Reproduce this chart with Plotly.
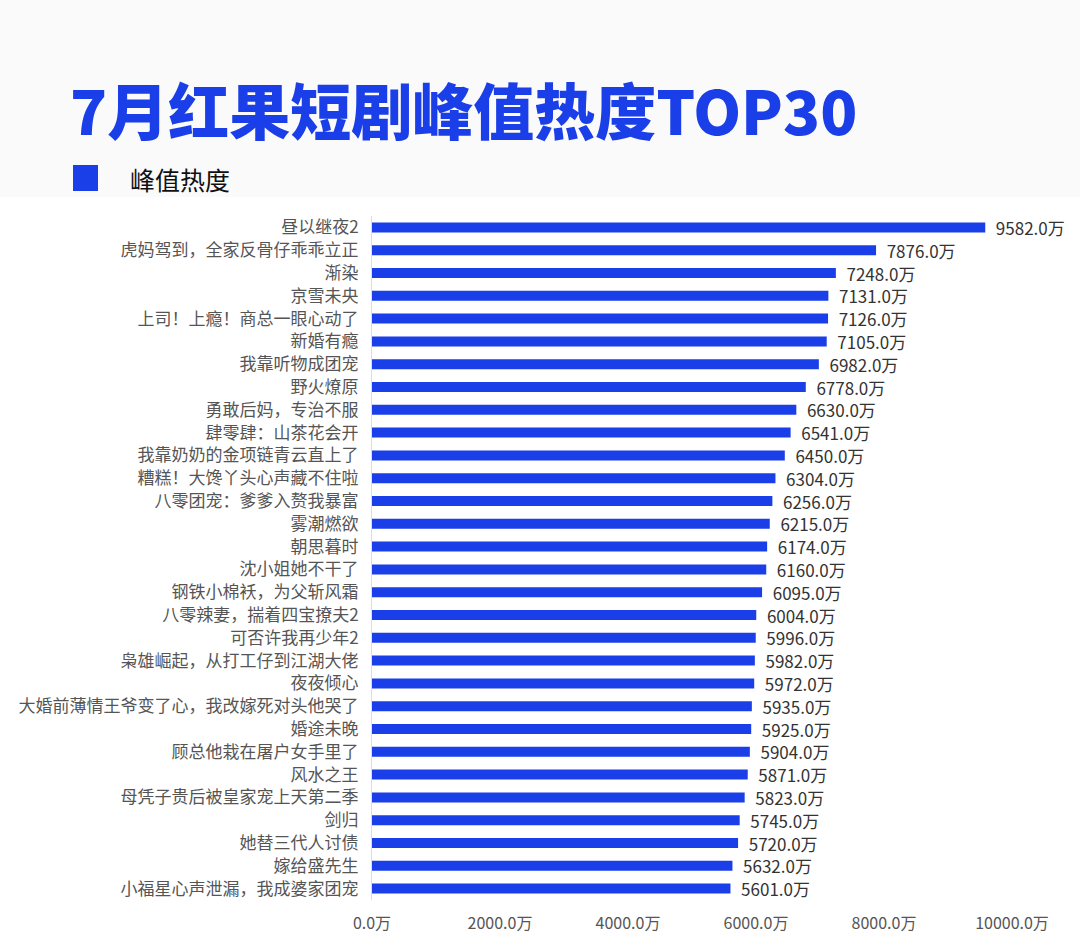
import plotly.graph_objects as go

titles = [
    "昼以继夜2", "虎妈驾到，全家反骨仔乖乖立正", "渐染", "京雪未央", "上司！上瘾！商总一眼心动了",
    "新婚有瘾", "我靠听物成团宠", "野火燎原", "勇敢后妈，专治不服", "肆零肆：山茶花会开",
    "我靠奶奶的金项链青云直上了", "糟糕！大馋丫头心声藏不住啦", "八零团宠：爹爹入赘我暴富", "雾潮燃欲", "朝思暮时",
    "沈小姐她不干了", "钢铁小棉袄，为父斩风霜", "八零辣妻，揣着四宝撩夫2", "可否许我再少年2", "枭雄崛起，从打工仔到江湖大佬",
    "夜夜倾心", "大婚前薄情王爷变了心，我改嫁死对头他哭了", "婚途未晚", "顾总他栽在屠户女手里了", "风水之王",
    "母凭子贵后被皇家宠上天第二季", "剑归", "她替三代人讨债", "嫁给盛先生", "小福星心声泄漏，我成婆家团宠",
]
heat = [
    9582, 7876, 7248, 7131, 7126,
    7105, 6982, 6778, 6630, 6541,
    6450, 6304, 6256, 6215, 6174,
    6160, 6095, 6004, 5996, 5982,
    5972, 5935, 5925, 5904, 5871,
    5823, 5745, 5720, 5632, 5601,
]
series_name = "峰值热度"
chart_title = "7月红果短剧峰值热度TOP30"
x_ticks = [0, 2000, 4000, 6000, 8000, 10000]
x_ticktext = [f"{v:.1f}万" for v in x_ticks]

BLUE = "#1a3fe8"
FONT = "Noto Sans CJK SC"

fig = go.Figure(go.Bar(
    x=heat, y=titles, orientation="h", name=series_name,
    marker=dict(color=BLUE, line=dict(width=0)),
    texttemplate="  %{x:.1f}万", textposition="outside", constraintext="none",
    textfont=dict(family=FONT, size=17, color="#333333"),
    cliponaxis=False, showlegend=False,
))

L, R, T, B = 372, 68, 216, 48
W, H = 1080, 948
pw, ph = W - L - R, H - T - B

def px(xp):
    return (xp - L) / pw

def py(yp):
    return (H - B - yp) / ph

fig.update_layout(
    width=W, height=H,
    margin=dict(l=L, r=R, t=T, b=B, pad=0),
    paper_bgcolor="#fafafa", plot_bgcolor="white",
    bargap=0.56,
    font=dict(family=FONT, color="#555555"),
    title=dict(text=chart_title, x=70 / W, xanchor="left",
               xref="container", yref="container", y=1 - 114 / H, yanchor="middle",
               font=dict(family=FONT, size=61, color=BLUE, weight=900)),
    xaxis=dict(range=[0, 10000], tickvals=x_ticks, ticktext=x_ticktext,
               showgrid=False, zeroline=False, showline=False, ticks="",
               ticklabelstandoff=12,
               tickfont=dict(family=FONT, size=16, color="#555555")),
    yaxis=dict(autorange="reversed", showgrid=False, zeroline=False, showline=True,
               linecolor="#dcdcdc", linewidth=1, ticks="", ticklabelstandoff=9,
               tickfont=dict(family=FONT, size=17, color="#555555")),
    shapes=[
        dict(type="rect", xref="paper", yref="paper", x0=px(0), x1=px(W), y0=py(H), y1=py(197),
             fillcolor="white", line=dict(width=0), layer="below"),
        dict(type="rect", xref="paper", yref="paper", x0=px(73), x1=px(98), y0=py(191), y1=py(165),
             fillcolor=BLUE, line=dict(width=0)),
    ],
    annotations=[
        dict(text=series_name, xref="paper", yref="paper", x=px(128), y=py(179),
             xanchor="left", yanchor="middle", showarrow=False,
             font=dict(family=FONT, size=25, color="#111111")),
    ],
)

fig.write_html("out.html", config={"displayModeBar": False},
               post_script="document.body.style.margin='0';")
